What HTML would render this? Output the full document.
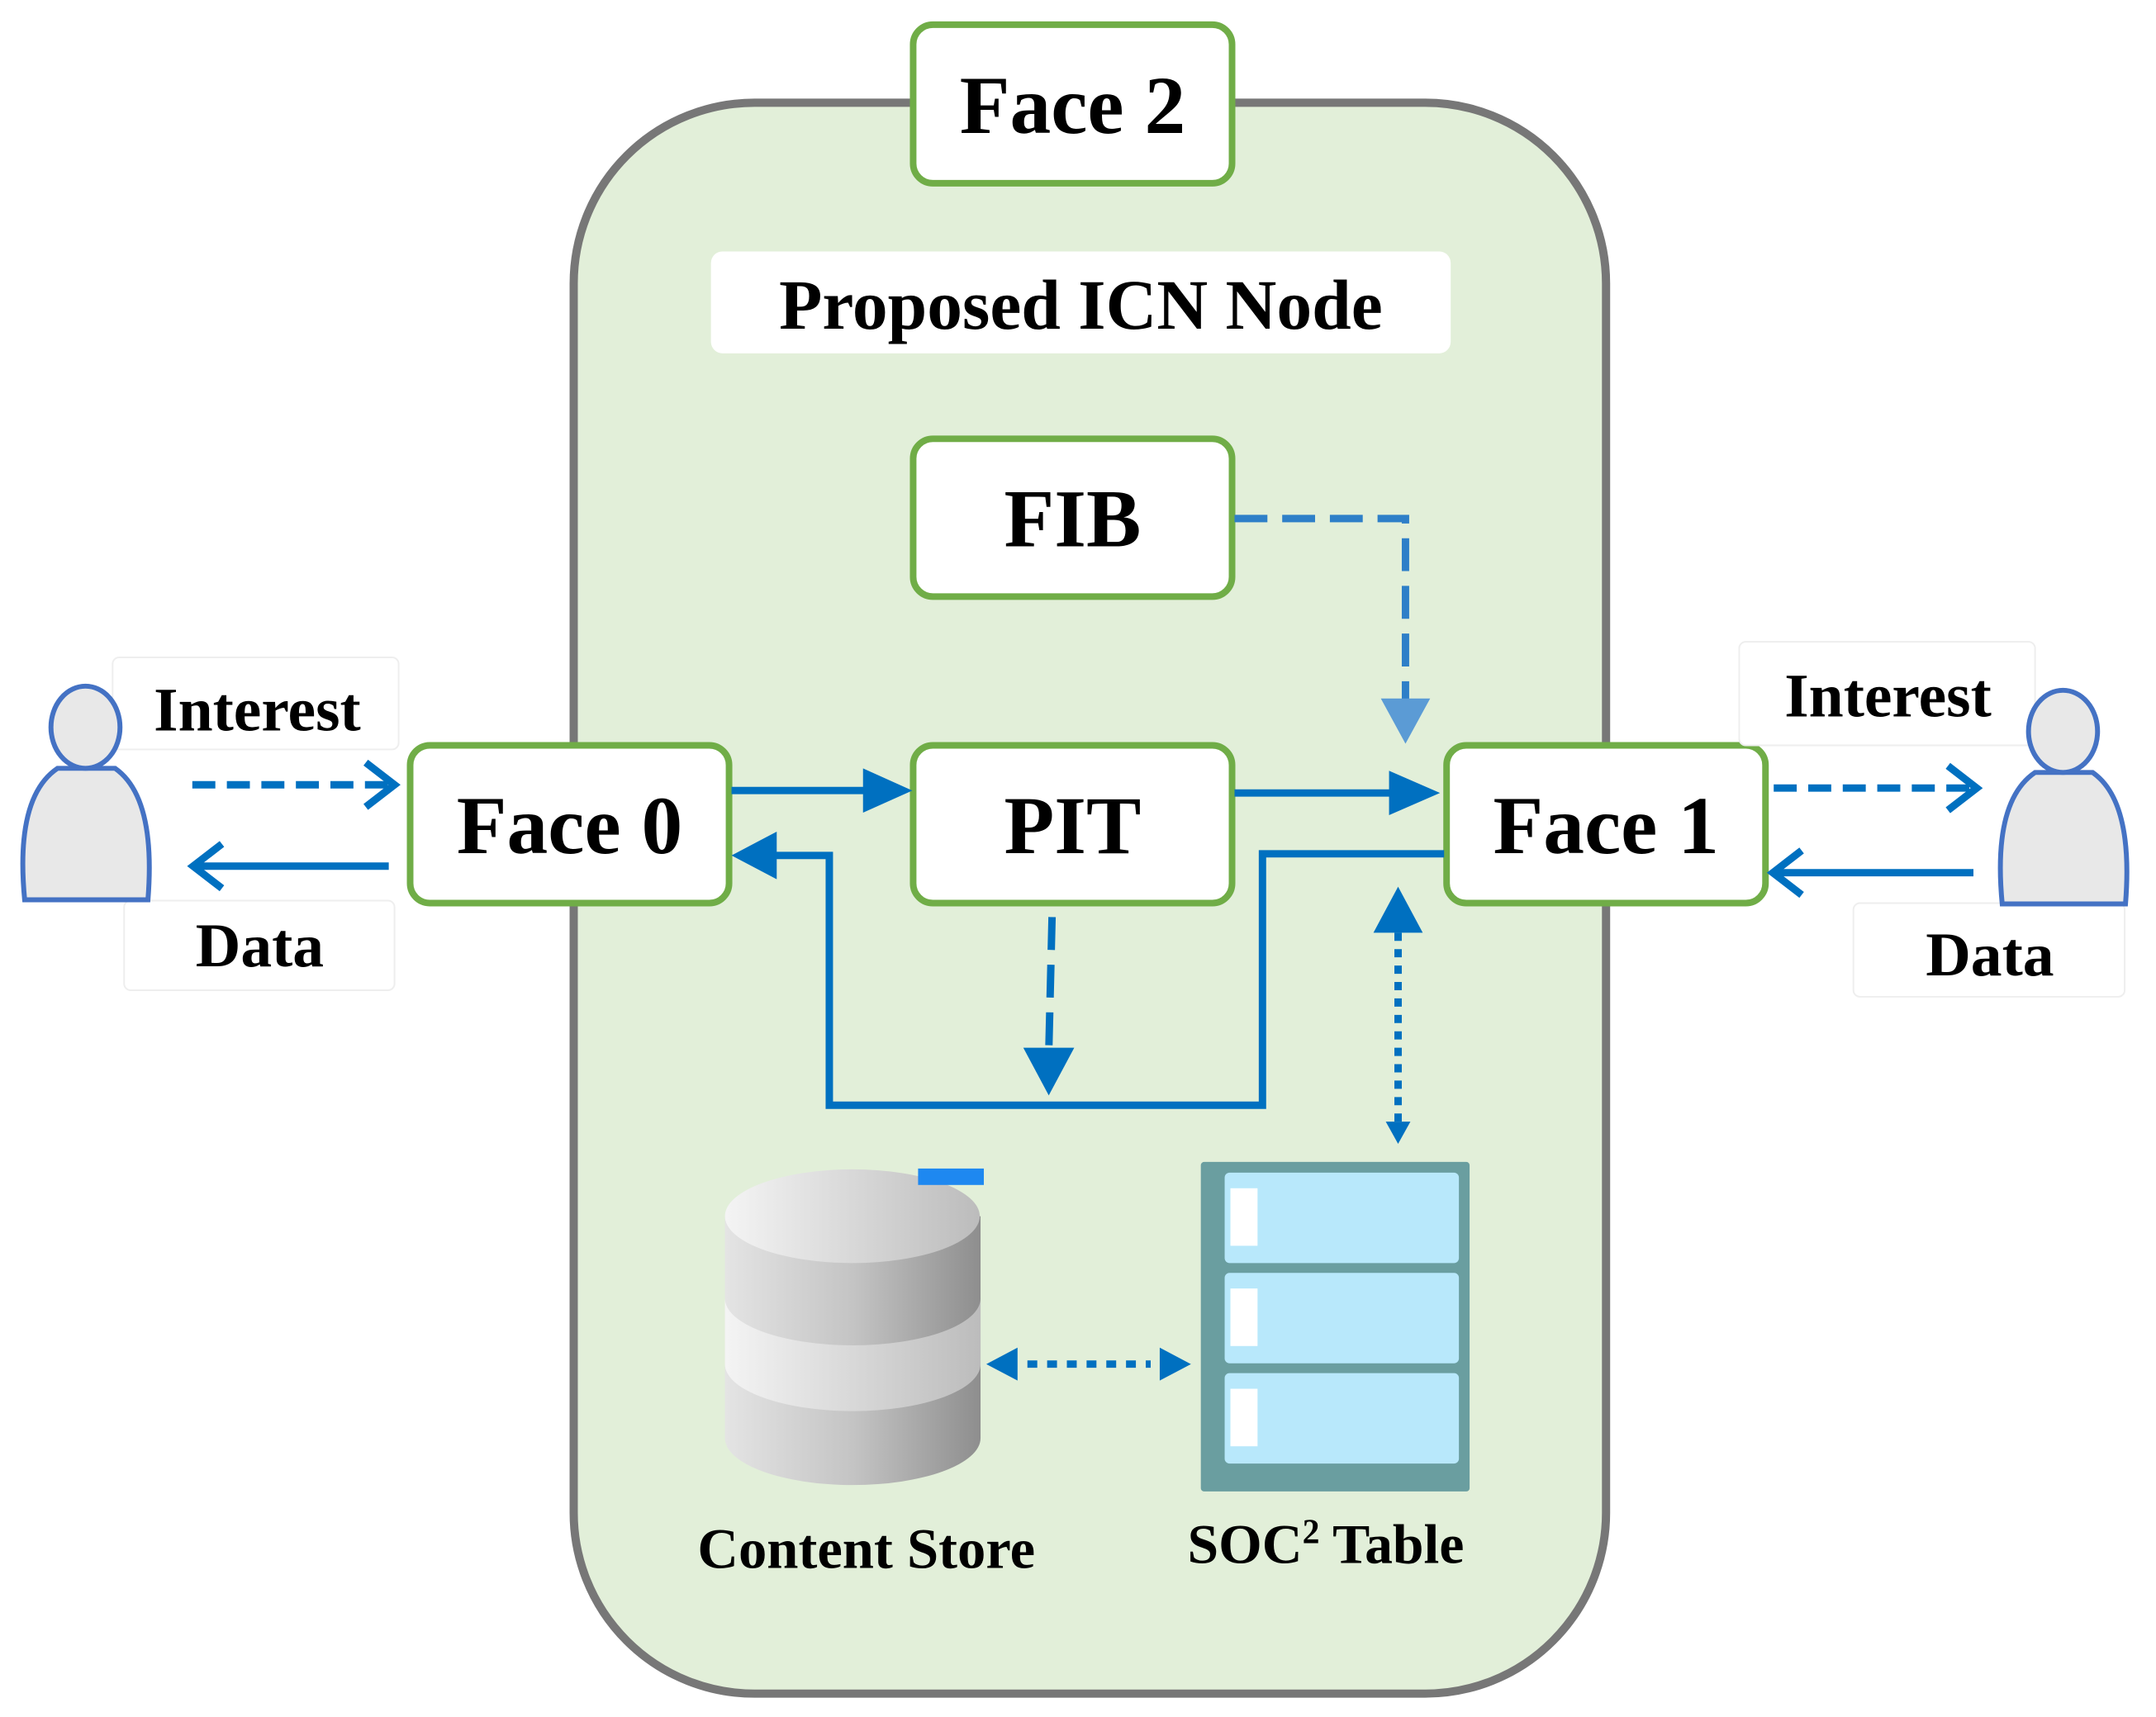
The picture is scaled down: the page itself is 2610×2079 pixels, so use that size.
<!DOCTYPE html>
<html><head><style>html,body{margin:0;padding:0;background:#fff}svg{display:block}</style></head>
<body>
<svg width="2610" height="2079" viewBox="0 0 2610 2079" xmlns="http://www.w3.org/2000/svg" font-family="'Liberation Serif', serif" font-weight="bold">
<defs>
<linearGradient id="cyl" x1="0" x2="1"><stop offset="0" stop-color="#e4e4e4"/><stop offset="0.5" stop-color="#c4c4c4"/><stop offset="1" stop-color="#8e8e8e"/></linearGradient>
<linearGradient id="cyl2" x1="0" x2="1"><stop offset="0" stop-color="#f4f4f4"/><stop offset="1" stop-color="#bcbcbc"/></linearGradient>
</defs>
<g transform="scale(0.995)">
<rect x="698" y="125" width="1256" height="1936" rx="220" fill="#e2efd9" stroke="#777" stroke-width="10"/>
<g fill="#fff" stroke="#70ad47" stroke-width="8">
<rect x="1111" y="30" width="388" height="193" rx="24"/>
<rect x="1111" y="534" width="388" height="192" rx="24"/>
<rect x="499" y="907" width="388" height="192" rx="24"/>
<rect x="1111" y="907" width="388" height="192" rx="24"/>
<rect x="1760" y="907" width="388" height="192" rx="24"/>
</g>
<rect x="865" y="306" width="900" height="124" rx="14" fill="#fff"/>
<g fill="#fff" stroke="#eee" stroke-width="2">
<rect x="137" y="800" width="348" height="112" rx="8"/>
<rect x="151" y="1096" width="329" height="109" rx="8"/>
<rect x="2116" y="781" width="360" height="126" rx="8"/>
<rect x="2255" y="1099" width="330" height="114" rx="8"/>
</g>
<g text-anchor="middle" fill="#000">
<text x="1305" y="162" font-size="100">Face 2</text>
<text x="1315" y="400" font-size="86">Proposed ICN Node</text>
<text x="1305" y="665" font-size="100">FIB</text>
<text x="693" y="1038" font-size="100">Face 0</text>
<text x="1305" y="1038" font-size="100">PIT</text>
<text x="1954" y="1038" font-size="100">Face 1</text>
<text x="313" y="889" font-size="76">Interest</text>
<text x="316" y="1176" font-size="76">Data</text>
<text x="2297" y="872" font-size="76">Interest</text>
<text x="2421" y="1187" font-size="76">Data</text>
<text x="1054" y="1908" font-size="69">Content Store</text>
<text x="1613" y="1902" font-size="68">SOC<tspan font-size="42" dy="-24">2</tspan><tspan dy="24"> Table</tspan></text>
</g>
<g stroke="#4472c4" stroke-width="6" fill="#e8e8e8">
<path d="M30 1095 Q18 970 70 935 L140 935 Q190 970 180 1095 Z"/>
<ellipse cx="104" cy="885" rx="42" ry="50"/>
<path d="M2436 1100 Q2424 975 2476 940 L2546 940 Q2596 975 2586 1100 Z"/>
<ellipse cx="2510" cy="890" rx="42" ry="50"/>
</g>
<g stroke="#0070c0" stroke-width="9" fill="none">
<line x1="234" y1="955" x2="475" y2="955" stroke-dasharray="28,14"/>
<polyline points="445,928 480,955 445,982"/>
<line x1="473" y1="1054" x2="240" y2="1054"/>
<polyline points="270,1027 235,1054 270,1081"/>
<line x1="2158" y1="959" x2="2400" y2="959" stroke-dasharray="28,14"/>
<polyline points="2370,932 2405,959 2370,986"/>
<line x1="2401" y1="1062" x2="2162" y2="1062"/>
<polyline points="2192,1035 2157,1062 2192,1089"/>
<line x1="890" y1="962" x2="1055" y2="962"/>
<line x1="1502" y1="965" x2="1700" y2="965"/>
<polyline points="1757,1039 1536,1039 1536,1345 1009,1345 1009,1041 940,1041"/>
<line x1="1280" y1="1116" x2="1276" y2="1280" stroke-dasharray="40,18"/>
<polyline points="1502,631 1710,631 1710,860" stroke-dasharray="40,18" stroke="#2e7fc8"/>
<line x1="1701" y1="1135" x2="1701" y2="1370" stroke-dasharray="10,10"/>
<line x1="1250" y1="1660" x2="1400" y2="1660" stroke-dasharray="12,12"/>
</g>
<g fill="#0070c0">
<polygon points="1050,935 1110,962 1050,989"/>
<polygon points="1690,938 1752,965 1690,992"/>
<polygon points="945,1012 890,1041 945,1070"/>
<polygon points="1245,1275 1307,1275 1276,1333"/>
<polygon points="1671,1135 1731,1135 1701,1079"/>
<polygon points="1686,1365 1716,1365 1701,1392"/>
<polygon points="1238,1640 1200,1660 1238,1680"/>
<polygon points="1411,1640 1449,1660 1411,1680"/>
</g>
<polygon points="1680,850 1740,850 1710,905" fill="#5b9bd5"/>
<g>
<path d="M882 1480 L882 1750 A155 57 0 0 0 1193 1750 L1193 1480 Z" fill="url(#cyl)"/>
<path d="M882 1580 A155 57 0 0 0 1193 1580 L1193 1660 A155 57 0 0 1 882 1660 Z" fill="url(#cyl2)"/>
<ellipse cx="1037" cy="1480" rx="155" ry="57" fill="url(#cyl2)"/>
<rect x="1117" y="1422" width="80" height="20" fill="#1e88f0"/>
</g>
<g>
<rect x="1461" y="1414" width="327" height="401" rx="4" fill="#6a9ea0"/>
<rect x="1490" y="1427" width="285" height="110" rx="6" fill="#b8e8fb"/>
<rect x="1490" y="1549" width="285" height="110" rx="6" fill="#b8e8fb"/>
<rect x="1490" y="1671" width="285" height="110" rx="6" fill="#b8e8fb"/>
<g fill="#fff">
<rect x="1497" y="1446" width="33" height="70"/><rect x="1497" y="1568" width="33" height="70"/><rect x="1497" y="1690" width="33" height="70"/>
</g>
</g>
</g>
</svg>
</body></html>
